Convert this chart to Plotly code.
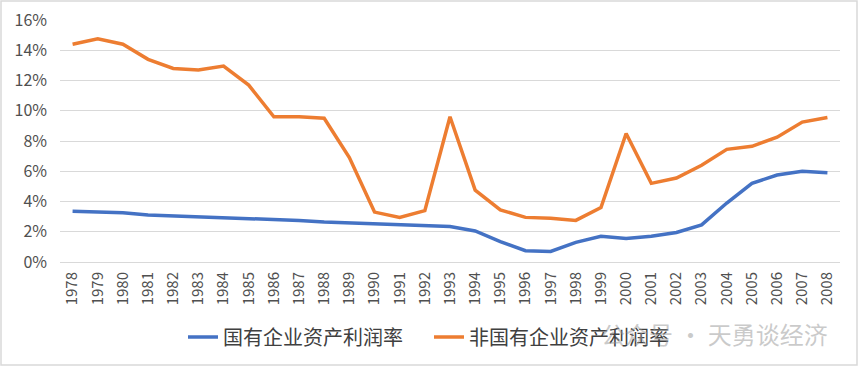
import plotly.graph_objects as go

years = [str(y) for y in range(1978, 2009)]
soe = [3.35, 3.3, 3.25, 3.1, 3.05, 3.0, 2.9, 2.85, 2.8, 2.75, 2.65, 2.6, 2.55, 2.5, 2.4, 2.35,
       2.05, 1.35, 0.75, 0.7, 1.3, 1.7, 1.55, 1.7, 1.95, 2.45, 3.9, 5.2, 5.75, 6.0, 5.9]
non_soe = [14.4, 14.75, 14.4, 13.4, 12.8, 12.7, 12.95, 11.7, 9.6, 9.6, 9.5, 6.9, 3.3, 2.95, 3.4, 9.6,
           4.75, 3.45, 2.95, 2.9, 2.75, 3.6, 8.5, 5.2, 5.55, 6.4, 7.45, 7.65, 8.25, 9.25, 9.55]
names = ["国有企业资产利润率", "非国有企业资产利润率"]
yticks = [0, 2, 4, 6, 8, 10, 12, 14, 16]

W, H = 858, 366
L, R, T, B = 60, 18, 20, 104
pw, ph = W - L - R, H - T - B

fig = go.Figure()
fig.add_trace(go.Scatter(x=years, y=soe, name=names[0], mode="lines",
                         line=dict(color="#4472C4", width=3.5)))
fig.add_trace(go.Scatter(x=years, y=non_soe, name=names[1], mode="lines",
                         line=dict(color="#ED7D31", width=3.5)))

font = "Noto Sans CJK SC, Noto Sans, sans-serif"
fig.update_layout(
    width=W, height=H,
    margin=dict(l=L, r=R, t=T, b=B, autoexpand=False),
    paper_bgcolor="white", plot_bgcolor="white",
    font=dict(family=font, color="#595959"),
    showlegend=True,
    legend=dict(orientation="h", xref="container", yref="container",
                x=183 / W, xanchor="left", y=(H - 337) / H, yanchor="middle",
                font=dict(size=20, color="#404040"),
                entrywidth=201, entrywidthmode="pixels",
                traceorder="normal", bgcolor="rgba(0,0,0,0)"),
    xaxis=dict(type="category", tickangle=-90, tickfont=dict(size=15, color="#505050"),
               showgrid=False, showline=False, ticks="", automargin=False,
               ticklabelstandoff=6, range=[-0.5, len(years) - 0.5]),
    yaxis=dict(range=[0, 16], tickvals=yticks, ticktext=[f"{v}%" for v in yticks],
               tickfont=dict(size=16, color="#505050"), gridcolor="#D9D9D9", gridwidth=1.3,
               zeroline=True, zerolinecolor="#D9D9D9", zerolinewidth=1.3,
               showline=False, ticks="", automargin=False, ticklabelstandoff=12),
)
fig.add_annotation(text="公众号 · 天勇谈经济", xref="paper", yref="paper",
                   x=(830 - L) / pw, y=-(333 - T - ph) / ph, xanchor="right", yanchor="middle",
                   showarrow=False, font=dict(size=24, color="rgba(150,150,150,0.5)", family=font))
fig.add_shape(type="rect", xref="paper", yref="paper",
              x0=-(L - 1) / pw, x1=1 + (R - 1) / pw, y0=-(B - 1) / ph, y1=1 + (T - 1) / ph,
              line=dict(color="#D9D9D9", width=1.5))
fig.write_html("out.html", config={"displayModeBar": False},
               post_script="document.body.style.margin='0';document.body.style.overflow='hidden';")
